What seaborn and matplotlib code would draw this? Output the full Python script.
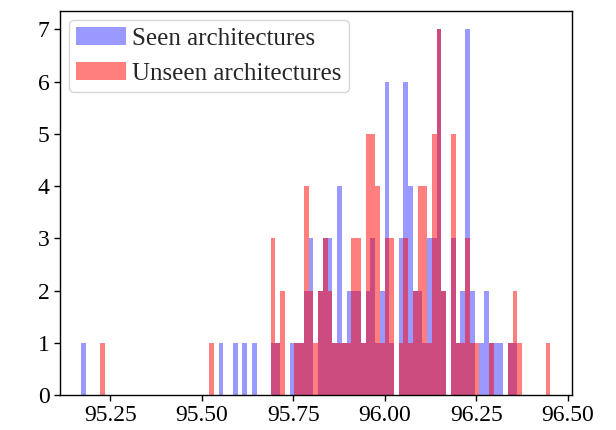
import matplotlib
matplotlib.use("Agg")
import matplotlib.pyplot as plt
import matplotlib.ticker as mticker
import seaborn as sns

# accuracy (%) -> number of architectures
seen_acc = [95.177, 95.553, 95.592, 95.618, 95.644, 95.695, 95.708, 95.747,
            95.760, 95.773, 95.786, 95.799, 95.825, 95.838, 95.851, 95.864,
            95.877, 95.890, 95.903, 95.916, 95.929, 95.942, 95.954, 95.967,
            95.980, 95.993, 96.006, 96.019, 96.045, 96.058, 96.071, 96.084,
            96.097, 96.110, 96.123, 96.136, 96.149, 96.162, 96.188, 96.200,
            96.213, 96.226, 96.239, 96.265, 96.278, 96.291, 96.304, 96.317,
            96.343, 96.356]
seen_cnt = [1, 1, 1, 1, 1, 1, 1, 1,
            1, 1, 2, 3, 2, 3, 3, 1,
            4, 1, 2, 2, 2, 1, 2, 3,
            1, 2, 6, 1, 3, 6, 4, 2,
            2, 1, 3, 3, 7, 2, 3, 1,
            2, 7, 2, 1, 2, 1, 1, 1,
            1, 1]

unseen_acc = [95.229, 95.527, 95.695, 95.708, 95.721, 95.760, 95.773, 95.786,
              95.799, 95.812, 95.825, 95.838, 95.851, 95.864, 95.877, 95.890,
              95.903, 95.916, 95.929, 95.942, 95.954, 95.967, 95.980, 95.993,
              96.006, 96.019, 96.045, 96.058, 96.071, 96.084, 96.097, 96.110,
              96.123, 96.136, 96.149, 96.162, 96.188, 96.200, 96.213, 96.226,
              96.239, 96.252, 96.291, 96.343, 96.356, 96.369, 96.447]
unseen_cnt = [1, 1, 3, 1, 2, 1, 1, 4,
              2, 1, 2, 3, 2, 1, 1, 1,
              1, 3, 3, 1, 5, 5, 4, 1,
              3, 3, 1, 3, 1, 2, 4, 4,
              1, 5, 7, 2, 5, 1, 1, 3,
              1, 1, 1, 1, 2, 1, 1]

x_ticks = [95.25, 95.50, 95.75, 96.00, 96.25, 96.50]
y_ticks = [0, 1, 2, 3, 4, 5, 6, 7]

sns.set_style("ticks")
plt.rcParams["font.family"] = ["Liberation Serif", "DejaVu Serif"]
plt.rcParams["axes.edgecolor"] = "black"
plt.rcParams["xtick.color"] = "black"
plt.rcParams["ytick.color"] = "black"

fig, ax = plt.subplots(figsize=(6.16, 4.30), dpi=100)
fig.subplots_adjust(left=0.0974, right=0.9286, bottom=0.0814, top=0.9744)

hist_kw = dict(bins=99, binrange=(95.1708, 96.4530),
               edgecolor="none", linewidth=0, ax=ax)
sns.histplot(x=seen_acc, weights=seen_cnt, color="blue", alpha=0.4,
             label="Seen architectures", **hist_kw)
sns.histplot(x=unseen_acc, weights=unseen_cnt, color="red", alpha=0.5,
             label="Unseen architectures", **hist_kw)

ax.set_xlim(95.113, 96.512)
ax.set_ylim(0, 7.35)
ax.set_xticks(x_ticks)
ax.set_yticks(y_ticks)
ax.xaxis.set_major_formatter(mticker.FormatStrFormatter("%.2f"))
ax.set_xlabel("")
ax.set_ylabel("")
ax.tick_params(labelsize=17, length=4, width=1)
for sp in ax.spines.values():
    sp.set_linewidth(1)

ax.legend(loc="upper left", fontsize=18, handlelength=2.0,
          borderaxespad=0.35, borderpad=0.3, labelspacing=0.5,
          handletextpad=0.25)

fig.savefig("out.png", dpi=100)
